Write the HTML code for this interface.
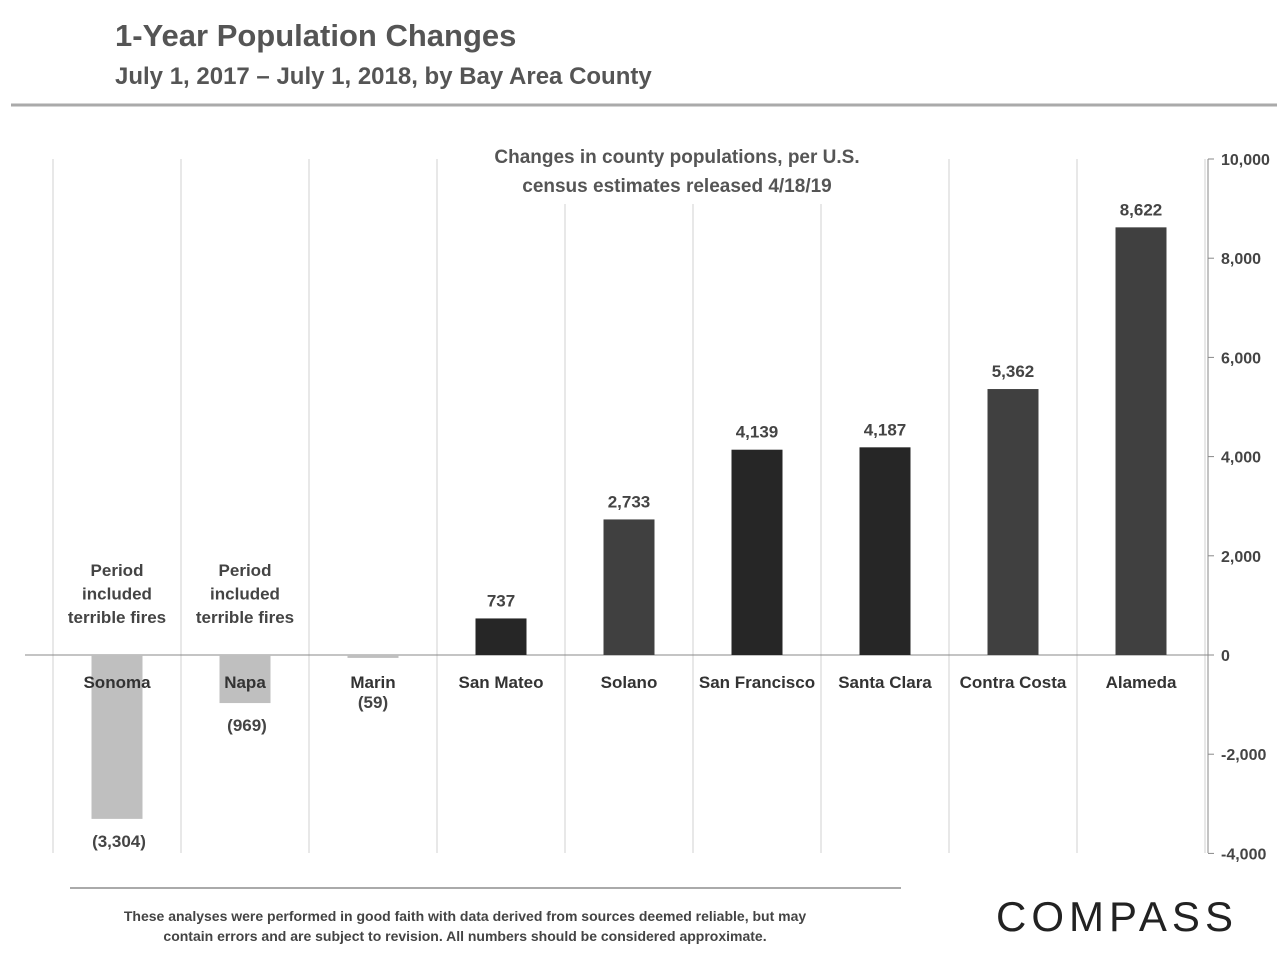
<!DOCTYPE html>
<html><head><meta charset="utf-8"><style>
body{margin:0;width:1288px;height:960px;background:#fff;font-family:"Liberation Sans",sans-serif;overflow:hidden}
svg text{font-family:"Liberation Sans",sans-serif;font-weight:bold}
</style></head><body>
<svg id="c" width="1288" height="960">
<text x="115" y="46" font-size="31" fill="#555">1-Year Population Changes</text>
<text x="115" y="84" font-size="24" fill="#555">July 1, 2017 – July 1, 2018, by Bay Area County</text>
<line x1="11" y1="105" x2="1277" y2="105" stroke="#aaa" stroke-width="3"/>
<g id="plot"></g>
<rect x="450" y="140" width="455" height="64" fill="#fff"/>
<text x="677" y="163" font-size="19" fill="#555" text-anchor="middle">Changes in county populations, per U.S.</text>
<text x="677" y="192" font-size="19" fill="#555" text-anchor="middle">census estimates released 4/18/19</text>
<line x1="70" y1="888" x2="901" y2="888" stroke="#aaa" stroke-width="2"/>
<text x="465" y="921" font-size="14" fill="#444" text-anchor="middle">These analyses were performed in good faith with data derived from sources deemed reliable, but may</text>
<text x="465" y="941" font-size="14" fill="#444" text-anchor="middle">contain errors and are subject to revision.  All numbers should be considered approximate.</text>
<text x="1117" y="931" font-size="42" fill="#222" text-anchor="middle" letter-spacing="5" style="font-weight:normal">COMPASS</text>
</svg>
<script>
const categories=["Sonoma","Napa","Marin","San Mateo","Solano","San Francisco","Santa Clara","Contra Costa","Alameda"];
const values=[-3304,-969,-59,737,2733,4139,4187,5362,8622];
const valueLabels=["(3,304)","(969)","(59)","737","2,733","4,139","4,187","5,362","8,622"];
const barColors=["#bfbfbf","#bfbfbf","#bfbfbf","#262626","#404040","#262626","#262626","#404040","#404040"];
const ticks=[10000,8000,6000,4000,2000,0,-2000,-4000];
const tickLabels=["10,000","8,000","6,000","4,000","2,000","0","-2,000","-4,000"];
const NS="http://www.w3.org/2000/svg",g=document.getElementById('plot');
const y=v=>655-v*0.0496;
const x0=53,cw=128,bw=51;
function mk(t,a,txt){const e=document.createElementNS(NS,t);for(const k in a)e.setAttribute(k,a[k]);if(txt!=null)e.textContent=txt;g.appendChild(e);return e;}
for(let i=0;i<=categories.length;i++){const l=mk('line',{x1:x0+i*cw,x2:x0+i*cw,y1:159,y2:853,stroke:'#d0d0d0','stroke-width':1});

}
const ax=mk('line',{x1:1208,x2:1208,y1:159,y2:853,stroke:'#888','stroke-width':1});


ticks.forEach((t,i)=>{const tl=mk('line',{x1:1208,x2:1214,y1:y(t),y2:y(t),stroke:'#888'});


const tx=mk('text',{x:1221,y:y(t)+6,'font-size':16,fill:'#444'},tickLabels[i]);

});
const z=mk('line',{x1:25,x2:1208,y1:y(0),y2:y(0),stroke:'#888','stroke-width':1});


categories.forEach((c,i)=>{const cx=x0+cw*i+cw/2,v=values[i];
const top=Math.min(y(v),y(0)),h=Math.max(Math.abs(y(v)-y(0)),2);
const b=mk('rect',{x:cx-bw/2,y:top,width:bw,height:h,fill:barColors[i]});


const lab=mk('text',{x:cx,y:688,'font-size':17,fill:'#333','text-anchor':'middle'},c);


let vy=v>=0?y(v)-12:(i==2?708:y(v)+28);
const vl=mk('text',{x:cx+(v<0&&i<2?2:0),y:vy,'font-size':17,fill:'#444','text-anchor':'middle'},valueLabels[i]);

});
[0,1].forEach(i=>{const cx=x0+cw*i+cw/2;["Period","included","terrible fires"].forEach((s,j)=>{const n=mk('text',{x:cx,y:576+j*23.5,'font-size':17,fill:'#444','text-anchor':'middle'},s);

});});
</script>
</body></html>
